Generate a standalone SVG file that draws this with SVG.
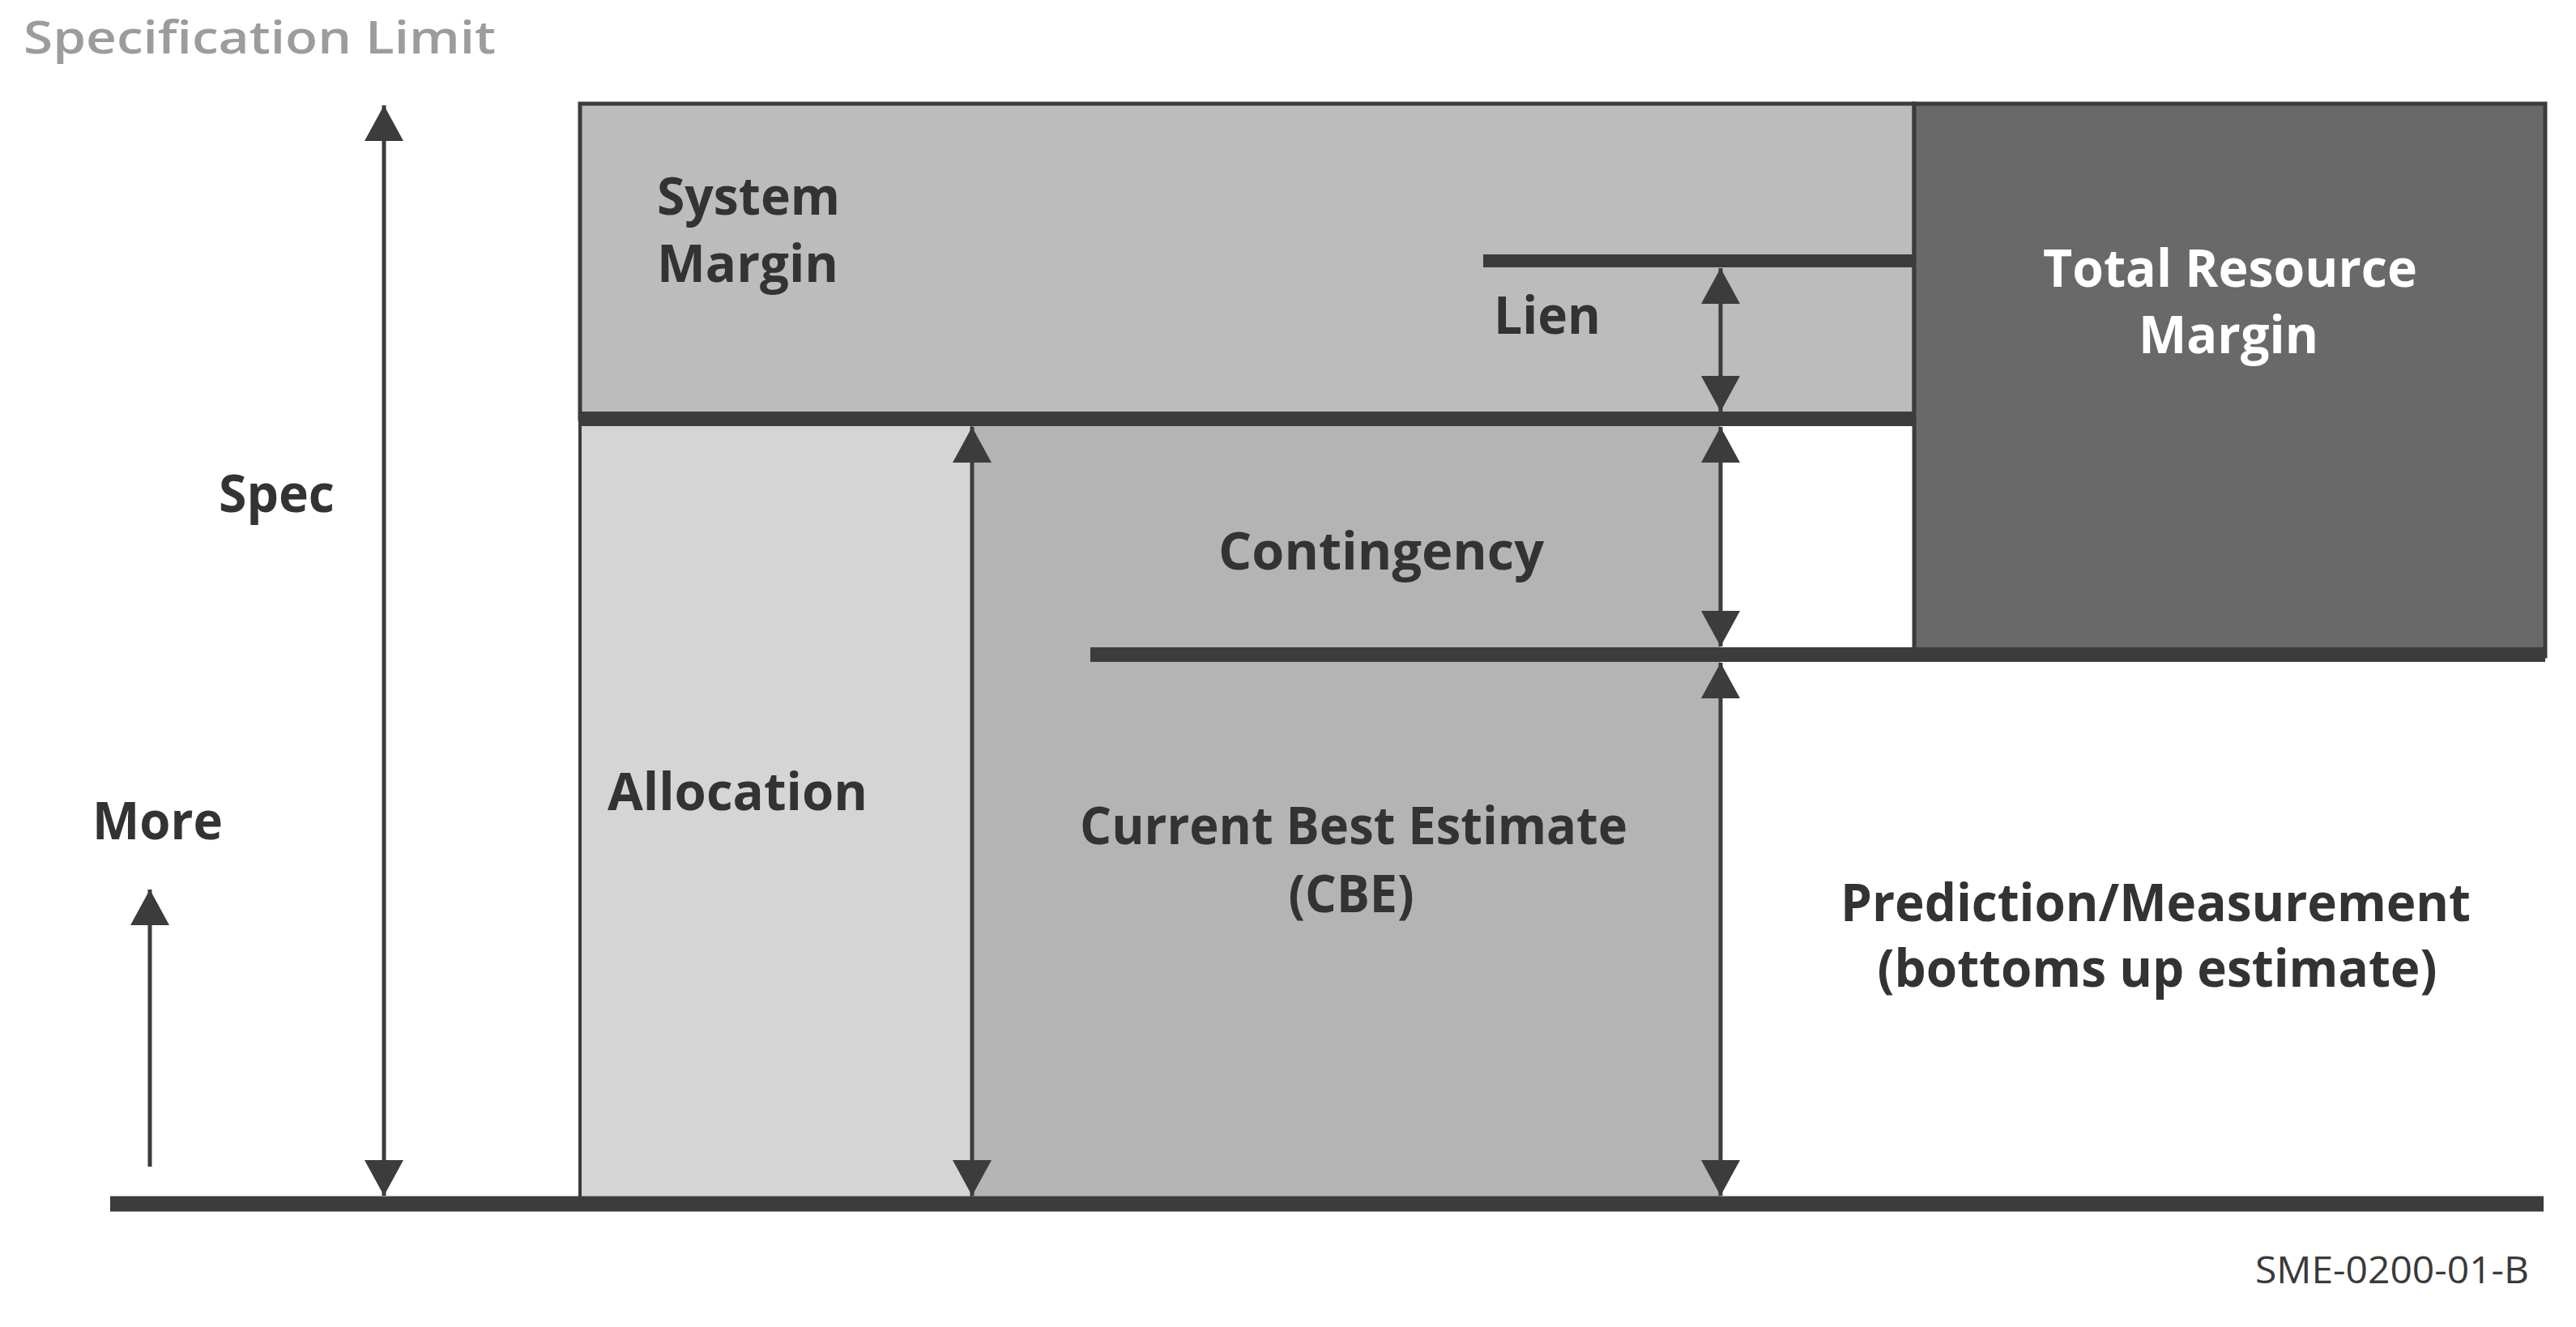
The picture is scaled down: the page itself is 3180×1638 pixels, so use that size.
<svg xmlns="http://www.w3.org/2000/svg" width="3180" height="1638" viewBox="0 0 3180 1638">
<style>
.lbl{font-family:"Open Sans","Liberation Sans",sans-serif;font-weight:700;font-size:64px;fill:#333333}
.wlbl{font-family:"Open Sans","Liberation Sans",sans-serif;font-weight:700;font-size:64px;fill:#ffffff}
.bar{stroke:#3c3c3c;fill:none;stroke-linecap:butt}
.arr{stroke:#3c3c3c;stroke-width:5;fill:none}
</style>
<defs>
<marker id="ah" viewBox="0 0 44 48" refX="44" refY="24" markerWidth="44" markerHeight="48" markerUnits="userSpaceOnUse" orient="auto-start-reverse">
<path d="M0,0 L44,24 L0,48 Z" fill="#3c3c3c"/>
</marker>
</defs>
<rect width="3180" height="1638" fill="#ffffff"/>

<g id="title">
<text x="29" y="66" style="font-family:'Open Sans','Liberation Sans',sans-serif;font-weight:600;font-size:56px;fill:#9c9c9c" textLength="583" lengthAdjust="spacingAndGlyphs">Specification Limit</text>
</g>

<g id="system-margin">
<rect x="716" y="128" width="1647" height="389" fill="#bcbcbc" stroke="#3c3c3c" stroke-width="5"/>
<text class="lbl" x="811" y="265" textLength="226" lengthAdjust="spacingAndGlyphs">System</text>
<text class="lbl" x="811" y="348" textLength="224" lengthAdjust="spacingAndGlyphs">Margin</text>
</g>

<g id="total-resource-margin">
<rect x="2363" y="128" width="779" height="682" fill="#696969" stroke="#3c3c3c" stroke-width="5"/>
<text class="wlbl" x="2753" y="354" text-anchor="middle" textLength="462" lengthAdjust="spacingAndGlyphs">Total Resource</text>
<text class="wlbl" x="2751" y="436" text-anchor="middle" textLength="222" lengthAdjust="spacingAndGlyphs">Margin</text>
</g>

<g id="allocation">
<rect x="716" y="517" width="484" height="969" fill="#d5d5d5" stroke="#3c3c3c" stroke-width="4"/>
<text class="lbl" x="750" y="1000" textLength="321" lengthAdjust="spacingAndGlyphs">Allocation</text>
</g>

<g id="contingency">
<rect x="1200" y="517" width="924" height="291" fill="#b4b4b4"/>
<text class="lbl" x="1705" y="703" text-anchor="middle" textLength="402" lengthAdjust="spacingAndGlyphs">Contingency</text>
</g>

<g id="cbe">
<rect x="1200" y="808" width="924" height="678" fill="#b4b4b4"/>
<text class="lbl" x="1671" y="1042" text-anchor="middle" textLength="676" lengthAdjust="spacingAndGlyphs">Current Best Estimate</text>
<text class="lbl" x="1668" y="1126" text-anchor="middle" textLength="155" lengthAdjust="spacingAndGlyphs">(CBE)</text>
</g>

<g id="lien">
<text class="lbl" x="1844" y="412" textLength="132" lengthAdjust="spacingAndGlyphs">Lien</text>
</g>

<g id="prediction">
<text class="lbl" x="2661" y="1137" text-anchor="middle" textLength="778" lengthAdjust="spacingAndGlyphs">Prediction/Measurement</text>
<text class="lbl" x="2663" y="1218" text-anchor="middle" textLength="691" lengthAdjust="spacingAndGlyphs">(bottoms up estimate)</text>
</g>

<g id="spec">
<text class="lbl" x="270" y="632" textLength="143" lengthAdjust="spacingAndGlyphs">Spec</text>
</g>

<g id="more">
<text class="lbl" x="114" y="1036" textLength="161" lengthAdjust="spacingAndGlyphs">More</text>
</g>

<g id="figure-id">
<text x="3122" y="1584" text-anchor="end" style="font-family:'Open Sans','Liberation Sans',sans-serif;font-weight:400;font-size:46px;fill:#3a3a3a" textLength="338" lengthAdjust="spacingAndGlyphs">SME-0200-01-B</text>
</g>

<g id="levels">
<line class="bar" x1="716" y1="517" x2="2363" y2="517" stroke-width="18"/>
<line class="bar" x1="1831" y1="322" x2="2363" y2="322" stroke-width="16"/>
<line class="bar" x1="1346" y1="808" x2="3142" y2="808" stroke-width="18"/>
<line class="bar" x1="136" y1="1486" x2="3140" y2="1486" stroke-width="19"/>
</g>

<g id="connectors">
<line class="arr" x1="474" y1="130" x2="474" y2="1476" marker-start="url(#ah)" marker-end="url(#ah)"/>
<line class="arr" x1="185" y1="1440" x2="185" y2="1098" marker-end="url(#ah)"/>
<line class="arr" x1="1200" y1="527" x2="1200" y2="1476" marker-start="url(#ah)" marker-end="url(#ah)"/>
<line class="arr" x1="2124" y1="331" x2="2124" y2="508" marker-start="url(#ah)" marker-end="url(#ah)"/>
<line class="arr" x1="2124" y1="527" x2="2124" y2="798" marker-start="url(#ah)" marker-end="url(#ah)"/>
<line class="arr" x1="2124" y1="818" x2="2124" y2="1476" marker-start="url(#ah)" marker-end="url(#ah)"/>
</g>
</svg>
